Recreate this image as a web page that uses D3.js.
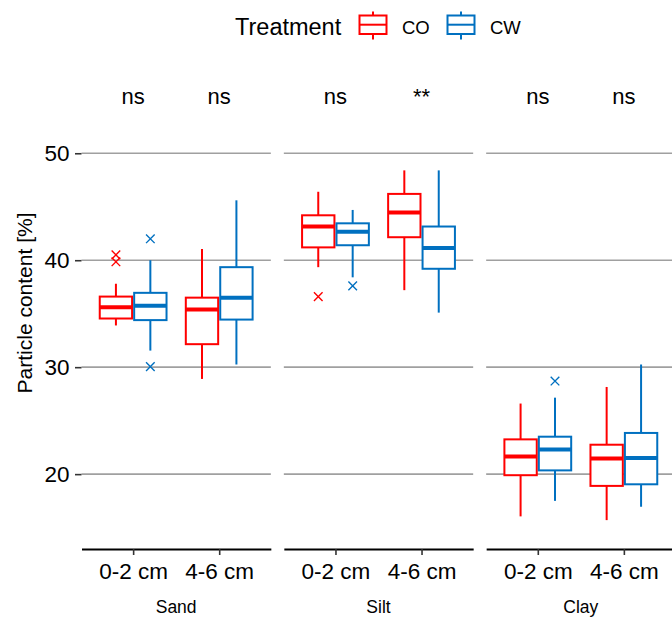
<!DOCTYPE html>
<html>
<head>
<meta charset="utf-8">
<script src="https://cdn.jsdelivr.net/npm/d3@7"></script>
<style>
  body { margin: 0; background: #fff; }
  text { font-family: "Liberation Sans", Arial, sans-serif; fill: #000; }
</style>
</head>
<body>
<div class="chart"></div>
<script>

// data
var materials = ['Sand', 'Silt', 'Clay'];
var depths = ['0-2 cm', '4-6 cm'];
var treatments = ['CO', 'CW'];
var treatColors = ['#FF0000', '#0070C0'];

var boxMaterial  = ['Sand', 'Sand', 'Sand', 'Sand', 'Silt', 'Silt', 'Silt', 'Silt', 'Clay', 'Clay', 'Clay', 'Clay'];
var boxDepth     = ['0-2 cm', '0-2 cm', '4-6 cm', '4-6 cm', '0-2 cm', '0-2 cm', '4-6 cm', '4-6 cm', '0-2 cm', '0-2 cm', '4-6 cm', '4-6 cm'];
var boxTreatment = ['CO', 'CW', 'CO', 'CW', 'CO', 'CW', 'CO', 'CW', 'CO', 'CW', 'CO', 'CW'];
var whiskerLow   = [33.9, 31.55, 28.9, 30.25, 39.35, 38.4, 37.2, 35.1, 16.05, 17.5, 15.7, 16.95];
var boxLow       = [34.55, 34.4, 32.15, 34.45, 41.2, 41.4, 42.15, 39.2, 19.9, 20.35, 18.9, 19.05];
var boxMid       = [35.6, 35.75, 35.4, 36.5, 43.15, 42.65, 44.45, 41.15, 21.65, 22.3, 21.45, 21.5];
var boxHigh      = [36.6, 36.95, 36.5, 39.35, 44.2, 43.45, 46.2, 43.15, 23.25, 23.5, 22.75, 23.85];
var whiskerHigh  = [37.8, 40.0, 41.05, 45.6, 46.4, 44.7, 48.4, 48.4, 26.6, 27.15, 28.15, 30.25];

var outMaterial  = ['Sand', 'Sand', 'Sand', 'Sand', 'Silt', 'Silt', 'Clay'];
var outDepth     = ['0-2 cm', '0-2 cm', '0-2 cm', '0-2 cm', '0-2 cm', '0-2 cm', '0-2 cm'];
var outTreatment = ['CO', 'CO', 'CW', 'CW', 'CO', 'CW', 'CW'];
var outValue     = [40.5, 39.85, 42.0, 30.05, 36.6, 37.6, 28.7];

var sigMaterial = ['Sand', 'Sand', 'Silt', 'Silt', 'Clay', 'Clay'];
var sigDepth    = ['0-2 cm', '4-6 cm', '0-2 cm', '4-6 cm', '0-2 cm', '4-6 cm'];
var sigLabel    = ['ns', 'ns', 'ns', '**', 'ns', 'ns'];
var sigY = 55.3;

var yTicks = [20, 30, 40, 50];

var width = 672, height = 617;

var svg = d3.select('.chart')
    .append('svg')
    .attr('width', width)
    .attr('height', height);

var scaleY = d3.scaleLinear()
    .domain([13.0, 59.0])
    .range([549, 57]);

var scalePanel = d3.scaleBand()
    .domain(materials)
    .range([81.5, 675.5])
    .paddingInner(0.0642)
    .paddingOuter(0);

var bw = scalePanel.bandwidth();

var scaleX = d3.scalePoint()
    .domain(depths)
    .range([0, bw])
    .padding(0.6);

var step = scaleX.step();

var scaleT = d3.scaleBand()
    .domain(treatments)
    .range([-0.4 * step, 0.4 * step]);

var boxW = scaleT.bandwidth() * 0.94;

var color = d3.scaleOrdinal().domain(treatments).range(treatColors);

var boxes = boxMaterial.map(function (m, i) {
    return {
        material: m, depth: boxDepth[i], treatment: boxTreatment[i],
        lo: whiskerLow[i], q1: boxLow[i], med: boxMid[i], q3: boxHigh[i], hi: whiskerHigh[i]
    };
});

var outliers = outMaterial.map(function (m, i) {
    return { material: m, depth: outDepth[i], treatment: outTreatment[i], v: outValue[i] };
});

function cx(d) {
    return scaleX(d.depth) + scaleT(d.treatment) + scaleT.bandwidth() / 2;
}

materials.forEach(function (mat) {
    var g = svg.append('g')
        .attr('transform', 'translate(' + scalePanel(mat) + ',0)');

    // grid
    g.selectAll('.grid')
        .data(yTicks)
        .enter()
        .append('line')
        .attr('x1', 0)
        .attr('x2', bw)
        .attr('y1', d => scaleY(d))
        .attr('y2', d => scaleY(d))
        .attr('stroke', '#a0a0a0')
        .attr('stroke-width', 1.6);

    var bx = g.selectAll('.box')
        .data(boxes.filter(d => d.material == mat))
        .enter()
        .append('g');

    bx.append('line')
        .attr('x1', cx).attr('x2', cx)
        .attr('y1', d => scaleY(d.hi))
        .attr('y2', d => scaleY(d.q3))
        .attr('stroke', d => color(d.treatment))
        .attr('stroke-width', 2);

    bx.append('line')
        .attr('x1', cx).attr('x2', cx)
        .attr('y1', d => scaleY(d.q1))
        .attr('y2', d => scaleY(d.lo))
        .attr('stroke', d => color(d.treatment))
        .attr('stroke-width', 2);

    bx.append('rect')
        .attr('x', d => cx(d) - boxW / 2)
        .attr('width', boxW)
        .attr('y', d => scaleY(d.q3))
        .attr('height', d => scaleY(d.q1) - scaleY(d.q3))
        .attr('fill', '#fff')
        .attr('stroke', d => color(d.treatment))
        .attr('stroke-width', 2);

    bx.append('line')
        .attr('x1', d => cx(d) - boxW / 2)
        .attr('x2', d => cx(d) + boxW / 2)
        .attr('y1', d => scaleY(d.med))
        .attr('y2', d => scaleY(d.med))
        .attr('stroke', d => color(d.treatment))
        .attr('stroke-width', 4);

    // outliers as x marks
    var s = 4.3;
    g.selectAll('.out')
        .data(outliers.filter(d => d.material == mat))
        .enter()
        .append('path')
        .attr('d', function (d) {
            var x = cx(d), y = scaleY(d.v);
            return 'M' + (x - s) + ',' + (y - s) + 'L' + (x + s) + ',' + (y + s) +
                'M' + (x - s) + ',' + (y + s) + 'L' + (x + s) + ',' + (y - s);
        })
        .attr('stroke', d => color(d.treatment))
        .attr('stroke-width', 1.4)
        .attr('fill', 'none');

    // significance labels
    g.selectAll('.sig')
        .data(sigLabel.map((t, i) => ({ t: t, m: sigMaterial[i], d: sigDepth[i] })).filter(d => d.m == mat))
        .enter()
        .append('text')
        .attr('x', d => scaleX(d.d))
        .attr('y', scaleY(sigY))
        .attr('dy', '0.32em')
        .style('text-anchor', 'middle')
        .style('font-size', '22px')
        .text(d => d.t);

    // x axis
    var axisX = d3.axisBottom(scaleX).tickSize(6).tickSizeOuter(0).tickPadding(8);
    var ax = g.append('g')
        .attr('transform', 'translate(0,549)')
        .call(axisX);
    ax.select('.domain').attr('stroke', '#000').attr('stroke-width', 2);
    ax.selectAll('.tick line').attr('stroke', '#333').attr('stroke-width', 1.6);
    ax.selectAll('.tick text').style('font-size', '22.5px').attr('fill', '#000')
        .style('font-family', '"Liberation Sans", Arial, sans-serif');

    // strip label at bottom
    g.append('text')
        .attr('x', bw / 2)
        .attr('y', 612.5)
        .style('text-anchor', 'middle')
        .style('font-size', '17.5px')
        .text(mat);
});

// y axis
var axisY = d3.axisLeft(scaleY).tickValues(yTicks).tickSize(6.5).tickPadding(5.5);
var ay = svg.append('g')
    .attr('transform', 'translate(81.5,0)')
    .call(axisY);
ay.select('.domain').remove();
ay.selectAll('.tick line').attr('stroke', '#333').attr('stroke-width', 1.6);
ay.selectAll('.tick text').style('font-size', '22.5px').attr('fill', '#000')
    .style('font-family', '"Liberation Sans", Arial, sans-serif');

svg.append('text')
    .attr('transform', 'translate(32,303) rotate(-90)')
    .style('text-anchor', 'middle')
    .style('font-size', '21px')
    .text('Particle content [%]');

// legend
svg.append('text')
    .attr('x', 235)
    .attr('y', 35)
    .style('font-size', '23.5px')
    .text('Treatment');

var keyX = [373, 461];
var labelX = [402, 490];
treatments.forEach(function (t, i) {
    var k = svg.append('g').attr('transform', 'translate(' + keyX[i] + ',0)');
    var c = color(t);
    k.append('line').attr('x1', 0).attr('x2', 0).attr('y1', 11.5).attr('y2', 39.5)
        .attr('stroke', c).attr('stroke-width', 2);
    k.append('rect').attr('x', -13.5).attr('y', 15.5).attr('width', 27).attr('height', 18.5)
        .attr('fill', '#fff').attr('stroke', c).attr('stroke-width', 2);
    k.append('line').attr('x1', -13.5).attr('x2', 13.5).attr('y1', 24.7).attr('y2', 24.7)
        .attr('stroke', c).attr('stroke-width', 2);
    svg.append('text')
        .attr('x', labelX[i])
        .attr('y', 33.5)
        .style('font-size', '18.5px')
        .text(t);
});

</script>
</body>
</html>
